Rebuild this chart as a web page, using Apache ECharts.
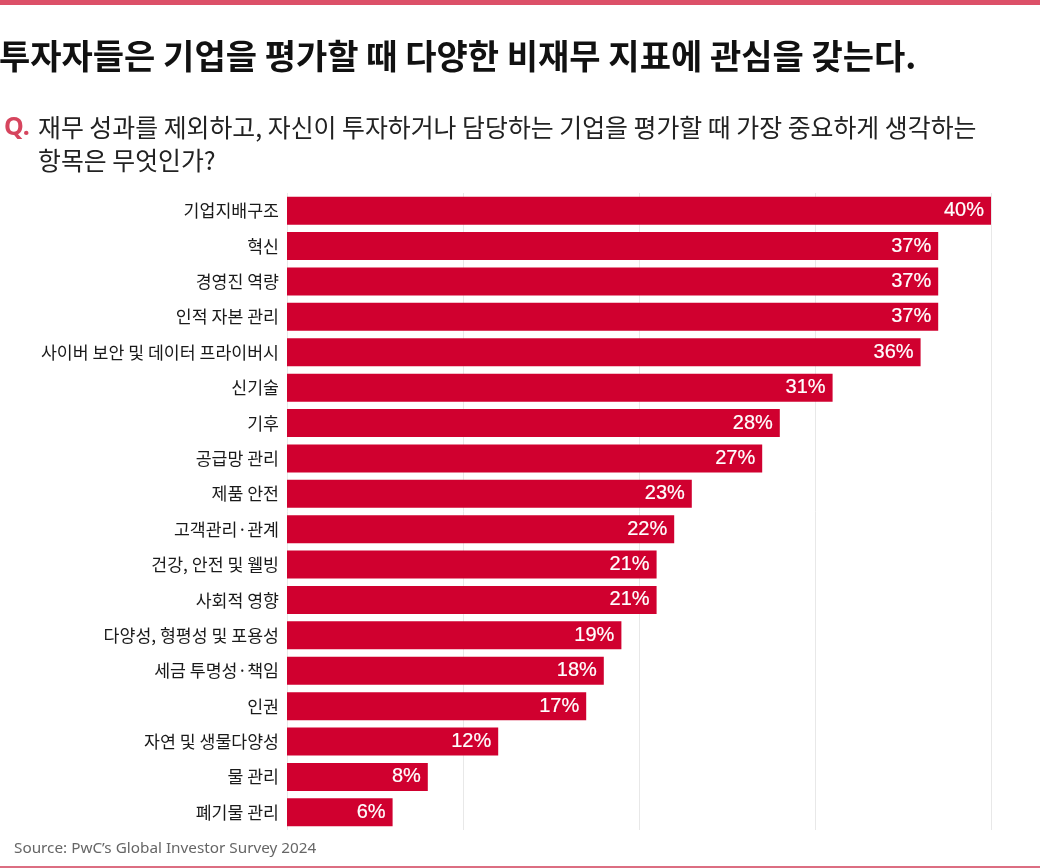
<!DOCTYPE html>
<html>
<head>
<meta charset="utf-8">
<script src="https://cdn.jsdelivr.net/npm/echarts@6/dist/echarts.min.js"></script>
<style>
  html, body { margin: 0; padding: 0; background: #fff; }
  #chart { width: 1040px; height: 868px; }
</style>
</head>
<body>
<div id="chart"></div>
<script>
var categories = ['기업지배구조', '혁신', '경영진 역량', '인적 자본 관리', '사이버 보안 및 데이터 프라이버시',
    '신기술', '기후', '공급망 관리', '제품 안전', '고객관리·관계', '건강, 안전 및 웰빙', '사회적 영향',
    '다양성, 형평성 및 포용성', '세금 투명성·책임', '인권', '자연 및 생물다양성', '물 관리', '폐기물 관리'];
var values = [40, 37, 37, 37, 36, 31, 28, 27, 23, 22, 21, 21, 19, 18, 17, 12, 8, 6];
var xTicks = [0, 10, 20, 30, 40];

var kr = '"Noto Sans CJK KR", "Noto Sans", sans-serif';

var myChart = echarts.init(document.getElementById('chart'));

var option = {
    backgroundColor: '#fff',
    animation: false,
    title: [
        {
            text: '투자자들은 기업을 평가할 때 다양한 비재무 지표에 관심을 갖는다.',
            left: -1, top: 39, padding: 0,
            textStyle: {fontFamily: kr, fontSize: 34, fontWeight: 'bold', color: '#111'}
        },
        {
            text: 'Q.',
            left: 4, top: 115, padding: 0,
            textStyle: {fontFamily: '"Noto Sans", sans-serif', fontSize: 25, fontWeight: 'bold', color: '#D6455E'}
        },
        {
            text: '재무 성과를 제외하고, 자신이 투자하거나 담당하는 기업을 평가할 때 가장 중요하게 생각하는\n항목은 무엇인가?',
            left: 38, top: 111, padding: 0,
            textStyle: {fontFamily: kr, fontSize: 24.9, fontWeight: 'normal', color: '#222', lineHeight: 33}
        },
        {
            text: 'Source: PwC’s Global Investor Survey 2024',
            left: 14, top: 841, padding: 0,
            textStyle: {fontFamily: '"Noto Sans", sans-serif', fontSize: 15.3, fontWeight: 'normal', color: '#666'}
        }
    ],
    graphic: [
        {type: 'rect', left: 0, top: 0, shape: {width: 1040, height: 5}, style: {fill: '#DC5068'}},
        {type: 'rect', left: 0, top: 866, shape: {width: 1040, height: 2}, style: {fill: '#DC6E82'}}
    ],
    grid: {left: 287, right: 49, top: 193, height: 637},
    xAxis: {
        type: 'value',
        min: xTicks[0],
        max: xTicks[xTicks.length - 1],
        interval: 10,
        axisLabel: {show: false},
        axisLine: {show: false},
        axisTick: {show: false},
        splitLine: {lineStyle: {color: '#e8e8e8', width: 1}}
    },
    yAxis: {
        type: 'category',
        inverse: true,
        data: categories,
        axisLine: {show: false},
        axisTick: {show: false},
        axisLabel: {fontFamily: kr, fontSize: 17.3, color: '#1a1a1a', margin: 8}
    },
    series: [{
        type: 'bar',
        data: values,
        barWidth: 28,
        itemStyle: {color: '#D0002F'},
        label: {
            show: true,
            position: 'insideRight',
            distance: 7,
            formatter: '{c}%',
            fontFamily: '"Liberation Sans", Arial, sans-serif',
            fontSize: 20,
            fontWeight: 'normal',
            color: '#fff',
            textBorderColor: '#fff',
            textBorderWidth: 0.2
        }
    }]
};

myChart.setOption(option);
</script>
</body>
</html>
